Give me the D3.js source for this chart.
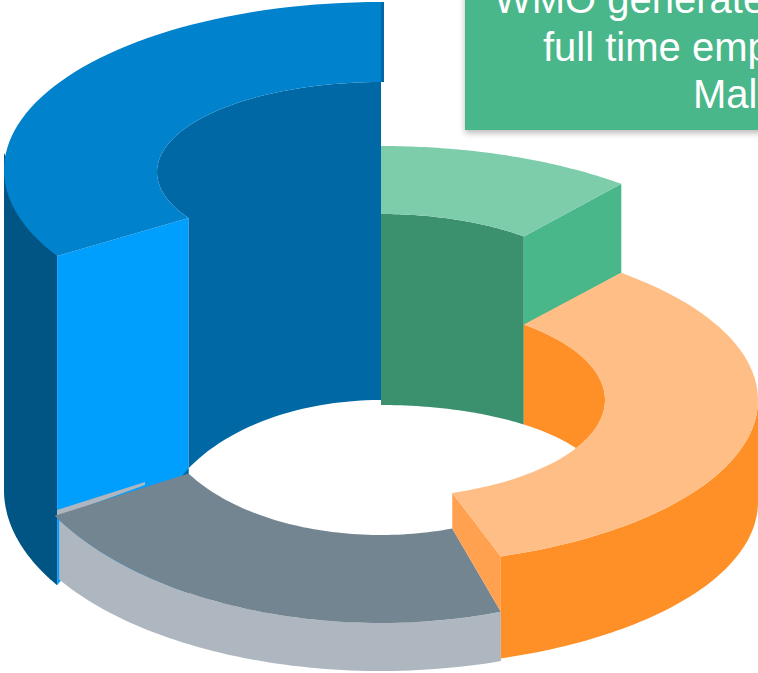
<!DOCTYPE html>
<html>
<head>
<meta charset="utf-8">
<script src="https://cdn.jsdelivr.net/npm/d3@7"></script>
<style>
html,body{margin:0;padding:0;background:#fff;overflow:hidden}
svg{display:block}
</style>
</head>
<body>
<svg id="chart" width="758" height="673"></svg>
<script>
// values (share of the ring, %)
const segmentNames = ["green", "orange", "gray", "blue"];
const segmentShares = [11, 33.85, 21.6, 33.55];
const calloutLines = ["WMO generate", "full time emp", "Mal"];

const W = 758, H = 673, CX = 381, RO = 377, RI = 224;
const svg = d3.select("#chart");
const defs = svg.append("defs");
const f = defs.append("filter").attr("id", "sh").attr("x", "-10%").attr("y", "-10%").attr("width", "120%").attr("height", "130%");
f.append("feDropShadow").attr("dx", 0).attr("dy", 3).attr("stdDeviation", 3).attr("flood-color", "#000").attr("flood-opacity", 0.28);

// cumulative share -> angle clockwise from the top of the ring
const cum = d3.cumsum(segmentShares);
const angle = d3.scaleLinear().domain([0, 100]).range([0, 360]);
const edges = [0, ...cum].map(angle);
const seg = Object.fromEntries(segmentNames.map((n, i) => [n, [edges[i], edges[i + 1]]]));

const rad = d => d * Math.PI / 180;
const arc = (rx, cy, ry, a0, a1) => d3.range(0, 61).map(i => {
  const t = rad(a0 + (a1 - a0) * i / 60);
  return [CX + rx * Math.sin(t), cy - ry * Math.cos(t)];
});
const line = d3.line().curve(d3.curveLinear);
const poly = (pts, fill) => svg.append("path").attr("d", line(pts) + "Z").attr("fill", fill);

// ---------- blue ----------
const [b0, b1] = seg.blue;
const B = { cy: 170, ro: 168, cyI: 172, ri: 90, sideCy: 490, sideRy: 186, wallCy: 540, wallRy: 140 };
// outer dark side
poly([
  [CX - RO, 153],
  ...arc(RO, B.sideCy, B.sideRy, 270, b0),
  arc(RO, B.cy, B.ro, b0, b0)[0]
], "#005584");
// bright cut face
const bOuter = arc(RO, B.cy, B.ro, b0, b0)[0], bInner = arc(RI, B.cyI, B.ri, b0, b0)[0];
const bWallBottom = arc(RI, B.wallCy, B.wallRy, b0, b1);
poly([bOuter, bInner, bWallBottom[0], [bOuter[0] + 6, 578], [bOuter[0], arc(RO, B.sideCy, B.sideRy, b0, b0)[0][1]]], "#009ffe");
// inner wall
poly([
  ...arc(RI, B.cyI, B.ri, b0, b1),
  [CX + 3, B.cyI - B.ri],
  [CX + 3, 2],
  [CX, 2],
  [CX, B.wallCy - B.wallRy + 1],
  ...bWallBottom.slice().reverse()
], "#0069a5");
// top
poly([...arc(RO, B.cy, B.ro, b0, b1), ...arc(RI, B.cyI, B.ri, b1, b0)], "#0082cd");

// ---------- green ----------
const [g0, g1] = seg.green;
const G = { cy: 311, cyI: 312, ro: 165, ri: 98, wallCy: 490, wallRy: 85, sideDrop: 89 };
poly([...arc(RI, G.cyI, G.ri, g0, g1), ...arc(RI, G.wallCy, G.wallRy, g1, g0)], "#3b916e");
const gO = arc(RO, G.cy, G.ro, g1, g1)[0], gI = arc(RI, G.cyI, G.ri, g1, g1)[0];
poly([gI, gO, [gO[0], gO[1] + G.sideDrop], [gI[0], gI[1] + G.sideDrop]], "#49b789");
poly([...arc(RO, G.cy, G.ro, g0, g1), ...arc(RI, G.cyI, G.ri, g1, g0)], "#7dcdab");

// ---------- gray ----------
const [y0, y1] = seg.gray;
const Y = { cyO: 408, roY: 215, cyI: 409, riY: 126, sideCy: 480, sideRy: 191 };
poly([...arc(RO, Y.cyO, Y.roY, y0, y1 - 0.6), ...arc(RO, Y.sideCy, Y.sideRy, y1 - 0.6, y0)], "#aeb6bf");
poly([[57, 510], [145, 482], [145, 485], [57, 517]], "#aeb6bf");
poly([...arc(RO, Y.cyO, Y.roY, y0, y1 + 0.7), ...arc(RI, Y.cyI, Y.riY, y1, y0)], "#748592");

// ---------- orange ----------
const [o0, o1] = seg.orange;
const O = { cy: 400, ro: 165, ri: 98, sideCy: 502, wallCy: 490, wallRy: 85 };
// inner wall
poly([...arc(RI, O.cy, O.ri, o0, 120), ...arc(RI, O.wallCy, O.wallRy, 120, o0)], "#ff8f27");
// outer side
poly([...arc(RO, O.cy, O.ro, 90, o1), ...arc(RO, O.sideCy, O.ro, o1, 90)], "#ff8f27");
// cut face
const oO = arc(RO, O.cy, O.ro, o1, o1)[0], oI = arc(RI, O.cy, O.ri, o1, o1)[0];
const yO = arc(RO, Y.cyO, Y.roY, y0, y0)[0], yI = arc(RI, Y.cyI, Y.riY, y0, y0)[0];
poly([oI, oO, yO, yI], "#ffa14f");
// top
poly([...arc(RO, O.cy, O.ro, o0, o1), ...arc(RI, O.cy, O.ri, o1, o0)], "#ffbe85");

// ---------- callout ----------
svg.append("rect").attr("x", 465).attr("y", -20).attr("width", 330).attr("height", 150)
  .attr("fill", "#49b789").attr("filter", "url(#sh)");
const lineX = [494, 543, 693], lineY = [13, 61, 108];
svg.selectAll("text.callout").data(calloutLines).join("text")
  .attr("class", "callout")
  .attr("x", (d, i) => lineX[i]).attr("y", (d, i) => lineY[i])
  .attr("font-family", "'Liberation Sans', Arial, sans-serif")
  .attr("font-size", 40).attr("fill", "#fff")
  .text(d => d);
</script>
</body>
</html>
